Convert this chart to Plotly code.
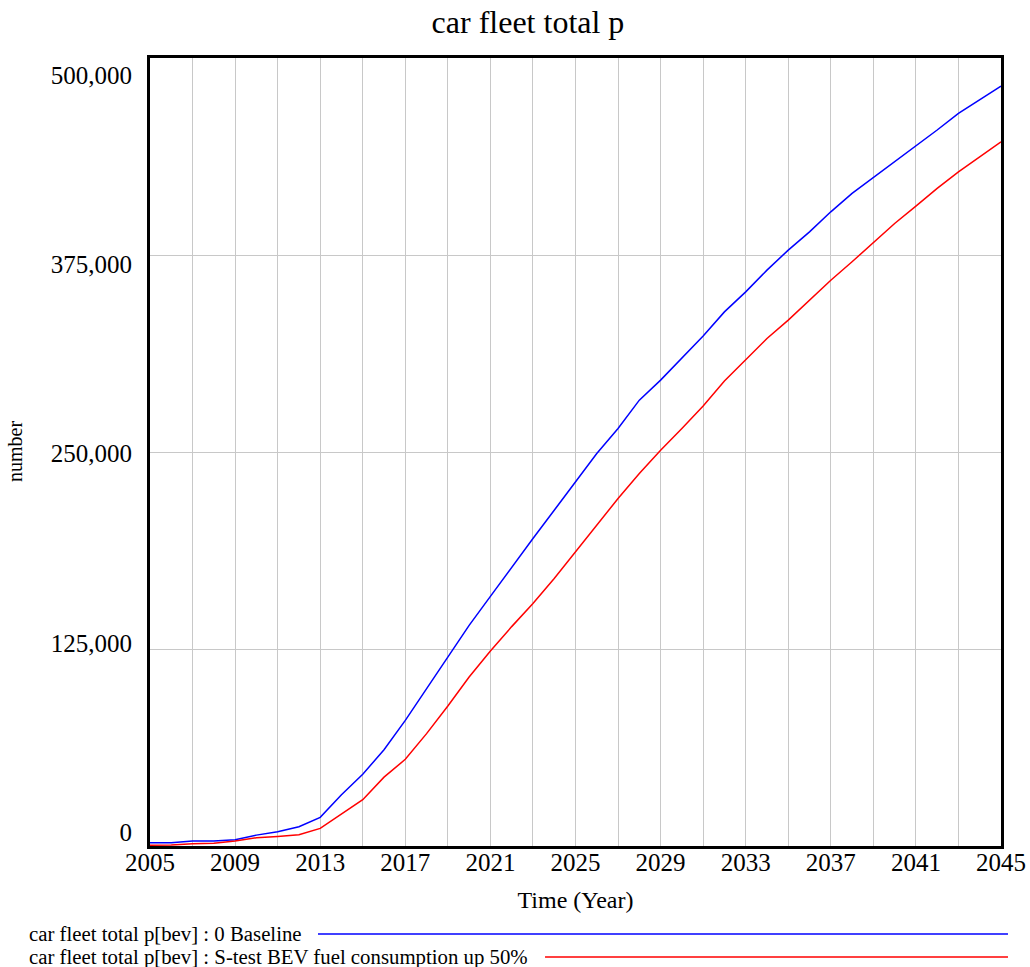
import plotly.graph_objects as go

# === Data ===
years = list(range(2005, 2046))

baseline = [2000, 2100, 3100, 3100, 4000, 6900, 9100, 12200, 18200, 32500, 45500,
            61100, 79700, 99900, 119900, 140000, 158400, 177100, 195100, 213000, 231000,
            249000, 264900, 282900, 295600, 309300, 323600, 338900, 351600, 365400, 378100,
            389700, 402400, 414100, 424100, 434100, 444100, 454300, 464900, 473700, 482200]

fuel_up_50 = [500, 700, 1500, 1800, 3100, 5200, 6100, 7100, 11200, 20500, 29400,
              43700, 55000, 71300, 88800, 107200, 123700, 139200, 153800, 169700, 186600,
              203500, 220500, 236300, 251100, 264900, 279200, 295000, 308300, 322000, 333700,
              346300, 359000, 370700, 382800, 395000, 406000, 417300, 427800, 437300, 446800]

series_names = ["car fleet total p[bev] : 0 Baseline",
                "car fleet total p[bev] : S-test BEV fuel consumption up 50%"]
series_colors = ["#0000ff", "#ff0000"]

y_ticks = [0, 125000, 250000, 375000, 500000]
y_labels = ["0", "125,000", "250,000", "375,000", "500,000"]
x_ticks = list(range(2005, 2046, 4))

FONT = "Liberation Serif, Times New Roman, serif"

fig = go.Figure()
for name, vals, col in zip(series_names, [baseline, fuel_up_50], series_colors):
    fig.add_trace(go.Scatter(x=years, y=vals, mode="lines", name=name,
                             line=dict(color=col, width=1.5)))

fig.update_layout(
    width=1030, height=967,
    paper_bgcolor="white", plot_bgcolor="white",
    showlegend=False,
    margin=dict(l=150, r=29, t=58, b=121, autoexpand=False),
    font=dict(family=FONT, color="black"),
    title=dict(text="car fleet total p", x=0.5126, xanchor="center",
               y=0.977, yanchor="middle", font=dict(size=32, family=FONT)),
)

fig.update_xaxes(
    range=[2005, 2045], tickvals=x_ticks, ticks="", ticklen=0,
    tickfont=dict(size=25), ticklabelstandoff=-8, automargin=False,
    showline=True, linewidth=3, linecolor="black", mirror=True,
    showgrid=True, gridcolor="#c8c8c8", gridwidth=1,
    minor=dict(dtick=2, tick0=2005, showgrid=True, gridcolor="#c8c8c8", gridwidth=1),
    title=dict(text="Time (Year)", font=dict(size=24), standoff=17),
    zeroline=False,
)
fig.update_yaxes(
    range=[0, 500000], tickvals=y_ticks, ticks="", ticklen=0,
    showticklabels=False, automargin=False,
    showline=True, linewidth=3, linecolor="black", mirror=True,
    showgrid=True, gridcolor="#c8c8c8", gridwidth=1,
    zeroline=False,
)

# Vensim spreads its value labels slightly inside the top/bottom gridlines;
# an overlaid axis carries the labels at those spots
label_pos = [8600 + v * 0.9612 for v in y_ticks]
fig.update_layout(yaxis2=dict(
    overlaying="y", side="left", anchor="x", range=[0, 500000],
    tickvals=label_pos, ticktext=y_labels, ticks="", ticklen=0,
    tickfont=dict(size=25), ticklabelstandoff=17, automargin=False,
    showgrid=False, showline=False, zeroline=False,
))
fig.add_trace(go.Scatter(x=[2005], y=[0], yaxis="y2", mode="markers",
                         marker=dict(opacity=0), hoverinfo="skip", showlegend=False))

# y-axis title
fig.add_annotation(text="number", xref="paper", yref="paper", x=-0.1586, y=0.5,
                   xanchor="center", yanchor="middle",
                   textangle=-90, showarrow=False, font=dict(size=20))

# Vensim-style legend below the chart: label followed by a long line sample
legend_rows = [(-0.1117, 0.1974), (-0.1409, 0.4642)]
for (ly, lx0), name, col in zip(legend_rows, series_names, series_colors):
    fig.add_annotation(text=name, xref="paper", yref="paper", x=-0.1445, y=ly,
                       xanchor="left", yanchor="middle", showarrow=False,
                       font=dict(size=20.8))
    fig.add_shape(type="line", xref="paper", yref="paper", x0=lx0, x1=1.0082,
                  y0=ly, y1=ly, line=dict(color=col, width=1.5))

# drop the default body margin so the figure fills the window exactly
fig.write_html("out.html", config={"displayModeBar": False},
               post_script="document.body.style.margin='0';")
